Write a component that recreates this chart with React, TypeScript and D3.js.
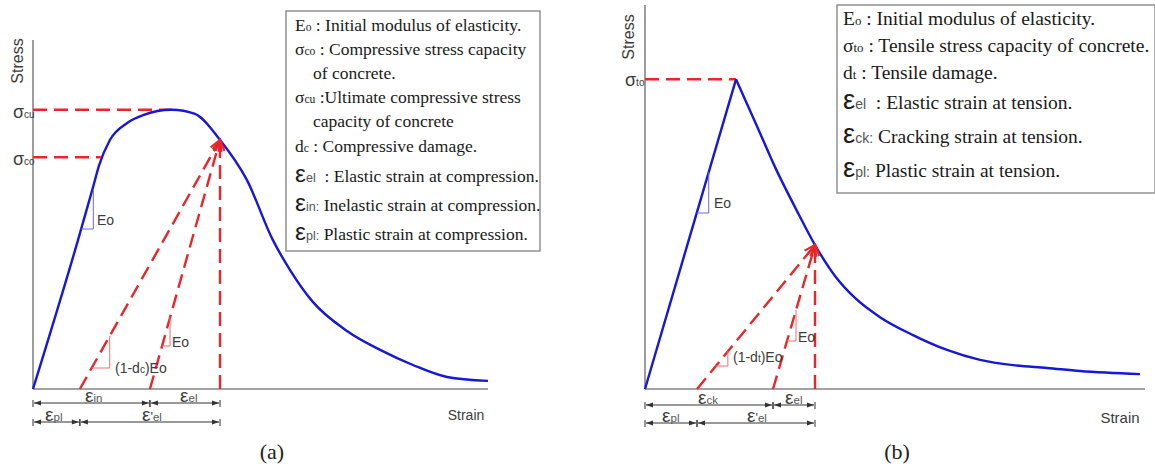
import React from "react";
import * as d3 from "d3";

// ---------- Compression response (a): strain (normalised, 0–10) vs stress / σcu ----------
const compStrain = [0, 0.99, 1.32, 1.45, 1.69, 2.07, 2.42, 3.05, 3.56, 4.11, 4.7, 5.27, 5.65, 6.15, 6.9, 7.63, 8.35, 9.1, 10.0];
const compStress = [0, 0.534, 0.723, 0.8, 0.892, 0.953, 0.981, 1.0, 0.985, 0.892, 0.749, 0.534, 0.426, 0.312, 0.208, 0.14, 0.086, 0.043, 0.029];
const compSigmaCo = 0.83;
const compSigmaCoStrain = 1.49;
const compSigmaCu = 1.0;
const compPeakStrain = 3.05;
const compUnload = [4.11, 0.892];
const compPlasticStrain = 1.03;
const compElasticStart = 2.57;

// ---------- Tension response (b): strain (normalised, 0–10) vs stress / σto ----------
const tensStrain = [0, 1.82, 2.22, 2.62, 3.02, 3.4, 3.8, 4.2, 4.7, 5.36, 6.04, 6.7, 7.36, 8.04, 8.7, 9.9];
const tensStress = [0, 1.0, 0.856, 0.71, 0.581, 0.465, 0.365, 0.294, 0.232, 0.174, 0.126, 0.094, 0.077, 0.068, 0.058, 0.048];
const tensSigmaTo = 1.0;
const tensPeakStrain = 1.82;
const tensUnload = [3.4, 0.465];
const tensPlasticStrain = 1.04;
const tensElasticStart = 2.56;

// Legend entries: [kind, symbol, subscript, text]
const legendCompression = [
  ["sym", "E", "o", " : Initial modulus of elasticity."],
  ["sym", "σ", "co", " : Compressive stress capacity"],
  ["cont", "", "", "of concrete."],
  ["sym", "σ", "cu", " :Ultimate compressive stress"],
  ["cont", "", "", "capacity of concrete"],
  ["sym", "d", "c", " : Compressive damage."],
  ["eps", "ε", "el", "  : Elastic strain at compression."],
  ["eps", "ε", "in:", " Inelastic strain at compression."],
  ["eps", "ε", "pl:", " Plastic strain at compression."],
];
const legendTension = [
  ["sym", "E", "o", " : Initial modulus of elasticity."],
  ["sym", "σ", "to", " : Tensile stress capacity of concrete."],
  ["sym", "d", "t", " : Tensile damage."],
  ["eps", "ε", "el", "  : Elastic strain at tension."],
  ["eps", "ε", "ck:", " Cracking strain at tension."],
  ["eps", "ε", "pl:", " Plastic strain at tension."],
];

const RED = "#e8262b";
const BLUE = "#1717d6";
const AXIS = "#858585";
const INK = "#3c3c3c";
const SANS = "'Liberation Sans', Arial, sans-serif";
const SERIF = "'Liberation Serif', 'Times New Roman', serif";

type Pt = [number, number];

function slopeTriangle(p0: Pt, p1: Pt, yBase: number, dx: number) {
  // right-angle marker under a straight line p0→p1 (pixel space)
  const k = (p1[1] - p0[1]) / (p1[0] - p0[0]);
  const xb = p0[0] + (yBase - p0[1]) / k;
  const yTop = yBase + k * dx;
  return `M${xb},${yBase}L${xb + dx},${yBase}L${xb + dx},${yTop}`;
}

function DimLine({ x1, x2, y }: { x1: number; x2: number; y: number }) {
  return (
    <g stroke="#333" strokeWidth={1}>
      <line x1={x1 + 1} x2={x2 - 1} y1={y} y2={y} markerStart="url(#dimArrow)" markerEnd="url(#dimArrow)" />
      <line x1={x1} x2={x1} y1={y - 3} y2={y + 4} />
      <line x1={x2} x2={x2} y1={y - 3} y2={y + 4} />
    </g>
  );
}

function EpsLabel({ x, y, sub, prime }: { x: number; y: number; sub: string; prime?: boolean }) {
  return (
    <text x={x} y={y} fontFamily={SANS} fill={INK}>
      <tspan fontSize={19}>ε</tspan>
      {prime ? <tspan fontSize={13}>'</tspan> : null}
      <tspan fontSize={11.5} fill="#555">{sub}</tspan>
    </text>
  );
}

function Legend({ rows, x, indent, baselines, size, box }: { rows: string[][]; x: number; indent: number; baselines: number[]; size: number; box: number[] }) {
  return (
    <g>
      <rect x={box[0]} y={box[1]} width={box[2]} height={box[3]} fill="#fff" stroke="#8a8a8a" strokeWidth={1.4} />
      {rows.map((r, i) => {
        const [kind, sym, sub, txt] = r;
        if (kind === "cont")
          return (
            <text key={i} x={indent} y={baselines[i]} fontFamily={SERIF} fontSize={size} fill="#1a1a1a" style={{ whiteSpace: "pre" }}>
              {txt}
            </text>
          );
        if (kind === "eps")
          return (
            <text key={i} x={x} y={baselines[i]} fill="#1a1a1a" style={{ whiteSpace: "pre" }}>
              <tspan fontFamily={SANS} fontSize={size * 1.4}>{sym}</tspan>
              <tspan fontFamily={SANS} fontSize={size * 0.72} fill="#555">{sub}</tspan>
              <tspan fontFamily={SERIF} fontSize={size}>{txt}</tspan>
            </text>
          );
        return (
          <text key={i} x={x} y={baselines[i]} fontFamily={SERIF} fontSize={size} fill="#1a1a1a" style={{ whiteSpace: "pre" }}>
            <tspan>{sym}</tspan>
            <tspan fontSize={size * 0.66}>{sub}</tspan>
            <tspan>{txt}</tspan>
          </text>
        );
      })}
    </g>
  );
}

export default function App() {
  // panel (a) scales
  const xA = d3.scaleLinear().domain([0, 10]).range([33, 488]);
  const yA = d3.scaleLinear().domain([0, 1.25]).range([389, 40]);
  // panel (b) scales
  const xB = d3.scaleLinear().domain([0, 10]).range([645, 1145]);
  const yB = d3.scaleLinear().domain([0, 1.24]).range([389, 5]);

  const compPts: Pt[] = compStrain.map((s, i) => [s, compStress[i]]);
  const tensPts: Pt[] = tensStrain.map((s, i) => [s, tensStress[i]]);

  const lineA = d3
    .line<Pt>()
    .x((d) => xA(d[0]))
    .y((d) => yA(d[1]))
    .curve(d3.curveMonotoneX);
  const riseB = d3
    .line<Pt>()
    .x((d) => xB(d[0]))
    .y((d) => yB(d[1]));
  const fallB = d3
    .line<Pt>()
    .x((d) => xB(d[0]))
    .y((d) => yB(d[1]))
    .curve(d3.curveMonotoneX);

  // pixel anchors
  const aO: Pt = [xA(0), yA(0)];
  const aU: Pt = [xA(compUnload[0]), yA(compUnload[1])];
  const aPl: Pt = [xA(compPlasticStrain), yA(0)];
  const aEl: Pt = [xA(compElasticStart), yA(0)];
  const aInit: Pt = [xA(compStrain[1]), yA(compStress[1])];

  const bO: Pt = [xB(0), yB(0)];
  const bU: Pt = [xB(tensUnload[0]), yB(tensUnload[1])];
  const bPl: Pt = [xB(tensPlasticStrain), yB(0)];
  const bEl: Pt = [xB(tensElasticStart), yB(0)];
  const bPeak: Pt = [xB(tensPeakStrain), yB(tensSigmaTo)];

  const dash = "14 7";

  return (
    <svg width={1155} height={468} style={{ position: "absolute", left: 0, top: 0, background: "#fff" }}>
      <defs>
        <marker id="dimArrow" viewBox="-8 -4 10 8" markerWidth={10} markerHeight={8} refX={0} refY={0} orient="auto-start-reverse" markerUnits="userSpaceOnUse">
          <path d="M0,0L-7,-2.6L-7,2.6Z" fill="#333" />
        </marker>
        <marker id="redArrow" viewBox="-14 -8 16 16" markerWidth={16} markerHeight={16} refX={0} refY={0} orient="auto" markerUnits="userSpaceOnUse">
          <path d="M-11,-4.5L0,0L-11,4.5" fill="none" stroke={RED} strokeWidth={2.2} />
        </marker>
      </defs>

      {/* ================= (a) compression ================= */}
      <g>
        <line x1={xA(0)} x2={xA(0)} y1={yA(1.25)} y2={yA(0)} stroke={AXIS} strokeWidth={1.6} />
        <line x1={xA(0)} x2={xA(10)} y1={yA(0)} y2={yA(0)} stroke={AXIS} strokeWidth={1.6} />
        <text transform={`translate(23,61) rotate(-90)`} textAnchor="middle" fontFamily={SANS} fontSize={16} fill={INK}>
          Stress
        </text>
        <text x={466} y={420} textAnchor="middle" fontFamily={SANS} fontSize={14} fill={INK}>
          Strain
        </text>
        <text x={13} y={118} fontFamily={SANS} fill={INK}>
          <tspan fontSize={18}>σ</tspan>
          <tspan fontSize={10}>cu</tspan>
        </text>
        <text x={13} y={165} fontFamily={SANS} fill={INK}>
          <tspan fontSize={18}>σ</tspan>
          <tspan fontSize={10}>co</tspan>
        </text>

        <line x1={xA(0)} x2={xA(compPeakStrain)} y1={yA(compSigmaCu)} y2={yA(compSigmaCu)} stroke={RED} strokeWidth={2.4} strokeDasharray={dash} />
        <line x1={xA(0)} x2={xA(compSigmaCoStrain)} y1={yA(compSigmaCo)} y2={yA(compSigmaCo)} stroke={RED} strokeWidth={2.4} strokeDasharray={dash} />

        <Legend
          rows={legendCompression}
          x={295}
          indent={313}
          size={17.5}
          baselines={[31, 55, 79, 103, 127, 152, 182, 211, 240]}
          box={[286, 11, 254, 240]}
        />

        <path d={lineA(compPts) || ""} fill="none" stroke={BLUE} strokeWidth={2.4} />

        {/* unloading paths */}
        <line x1={aPl[0]} y1={aPl[1]} x2={aU[0]} y2={aU[1]} stroke={RED} strokeWidth={2.4} strokeDasharray={dash} markerEnd="url(#redArrow)" />
        <line x1={aEl[0]} y1={aEl[1]} x2={aU[0]} y2={aU[1]} stroke={RED} strokeWidth={2.4} strokeDasharray={dash} markerEnd="url(#redArrow)" />
        <line x1={aU[0]} y1={yA(0)} x2={aU[0]} y2={aU[1]} stroke={RED} strokeWidth={2.4} strokeDasharray={dash} markerEnd="url(#redArrow)" />

        <path d={slopeTriangle(aO, aInit, 229, 12)} fill="none" stroke="#6a6ae0" strokeWidth={1} />
        <path d={slopeTriangle(aPl, aU, 368, 18)} fill="none" stroke="#ef7070" strokeWidth={1} />
        <path d={slopeTriangle(aEl, aU, 346, 8)} fill="none" stroke="#ef7070" strokeWidth={1} />

        <text x={97} y={225} fontFamily={SANS} fontSize={14} fill={INK}>Eo</text>
        <text x={115} y={373} fontFamily={SANS} fontSize={14} fill={INK}>
          <tspan>(1-d</tspan>
          <tspan fontSize={10}>c</tspan>
          <tspan>)Eo</tspan>
        </text>
        <text x={172} y={347} fontFamily={SANS} fontSize={14} fill={INK}>Eo</text>

        <DimLine x1={xA(0)} x2={aEl[0]} y={403} />
        <DimLine x1={aEl[0]} x2={aU[0]} y={403} />
        <DimLine x1={xA(0)} x2={aPl[0]} y={422} />
        <DimLine x1={aPl[0]} x2={aU[0]} y={422} />
        <EpsLabel x={85} y={402} sub="in" />
        <EpsLabel x={180} y={402} sub="el" />
        <EpsLabel x={45} y={421} sub="pl" />
        <EpsLabel x={142} y={421} sub="el" prime />

        <text x={272} y={459} textAnchor="middle" fontFamily={SERIF} fontSize={22} fill="#222">(a)</text>
      </g>

      {/* ================= (b) tension ================= */}
      <g>
        <line x1={xB(0)} x2={xB(0)} y1={yB(1.24)} y2={yB(0)} stroke={AXIS} strokeWidth={1.6} />
        <line x1={xB(0)} x2={xB(10)} y1={yB(0)} y2={yB(0)} stroke={AXIS} strokeWidth={1.6} />
        <text transform={`translate(634,37) rotate(-90)`} textAnchor="middle" fontFamily={SANS} fontSize={16} fill={INK}>
          Stress
        </text>
        <text x={1120} y={423} textAnchor="middle" fontFamily={SANS} fontSize={15} fill={INK}>
          Strain
        </text>
        <text x={625} y={86} fontFamily={SANS} fill={INK}>
          <tspan fontSize={18}>σ</tspan>
          <tspan fontSize={10}>to</tspan>
        </text>

        <line x1={xB(0)} x2={bPeak[0]} y1={bPeak[1]} y2={bPeak[1]} stroke={RED} strokeWidth={2.4} strokeDasharray={dash} />

        <path d={riseB(tensPts.slice(0, 2)) || ""} fill="none" stroke={BLUE} strokeWidth={2.4} />
        <path d={fallB(tensPts.slice(1)) || ""} fill="none" stroke={BLUE} strokeWidth={2.4} />

        <line x1={bPl[0]} y1={bPl[1]} x2={bU[0]} y2={bU[1]} stroke={RED} strokeWidth={2.4} strokeDasharray={dash} markerEnd="url(#redArrow)" />
        <line x1={bEl[0]} y1={bEl[1]} x2={bU[0]} y2={bU[1]} stroke={RED} strokeWidth={2.4} strokeDasharray={dash} markerEnd="url(#redArrow)" />
        <line x1={bU[0]} y1={yB(0)} x2={bU[0]} y2={bU[1]} stroke={RED} strokeWidth={2.4} strokeDasharray={dash} markerEnd="url(#redArrow)" />

        <path d={slopeTriangle(bO, bPeak, 213, 12)} fill="none" stroke="#6a6ae0" strokeWidth={1} />
        <path d={slopeTriangle(bPl, bU, 366, 12)} fill="none" stroke="#ef7070" strokeWidth={1} />
        <path d={slopeTriangle(bEl, bU, 341, 9)} fill="none" stroke="#ef7070" strokeWidth={1} />

        <text x={714} y={208} fontFamily={SANS} fontSize={14} fill={INK}>Eo</text>
        <text x={733} y={362} fontFamily={SANS} fontSize={14} fill={INK}>
          <tspan>(1-d</tspan>
          <tspan fontSize={10}>t</tspan>
          <tspan>)Eo</tspan>
        </text>
        <text x={798} y={342} fontFamily={SANS} fontSize={14} fill={INK}>Eo</text>

        <DimLine x1={xB(0)} x2={bEl[0]} y={405} />
        <DimLine x1={bEl[0]} x2={bU[0]} y={405} />
        <DimLine x1={xB(0)} x2={bPl[0]} y={423} />
        <DimLine x1={bPl[0]} x2={bU[0]} y={423} />
        <EpsLabel x={698} y={404} sub="ck" />
        <EpsLabel x={785} y={404} sub="el" />
        <EpsLabel x={662} y={422} sub="pl" />
        <EpsLabel x={747} y={422} sub="el" prime />

        <Legend
          rows={legendTension}
          x={843}
          indent={843}
          size={19.5}
          baselines={[25, 52, 79, 109, 143, 177]}
          box={[837, 5, 318, 188]}
        />
        <text x={897} y={459} textAnchor="middle" fontFamily={SERIF} fontSize={22} fill="#222">(b)</text>
      </g>
    </svg>
  );
}
